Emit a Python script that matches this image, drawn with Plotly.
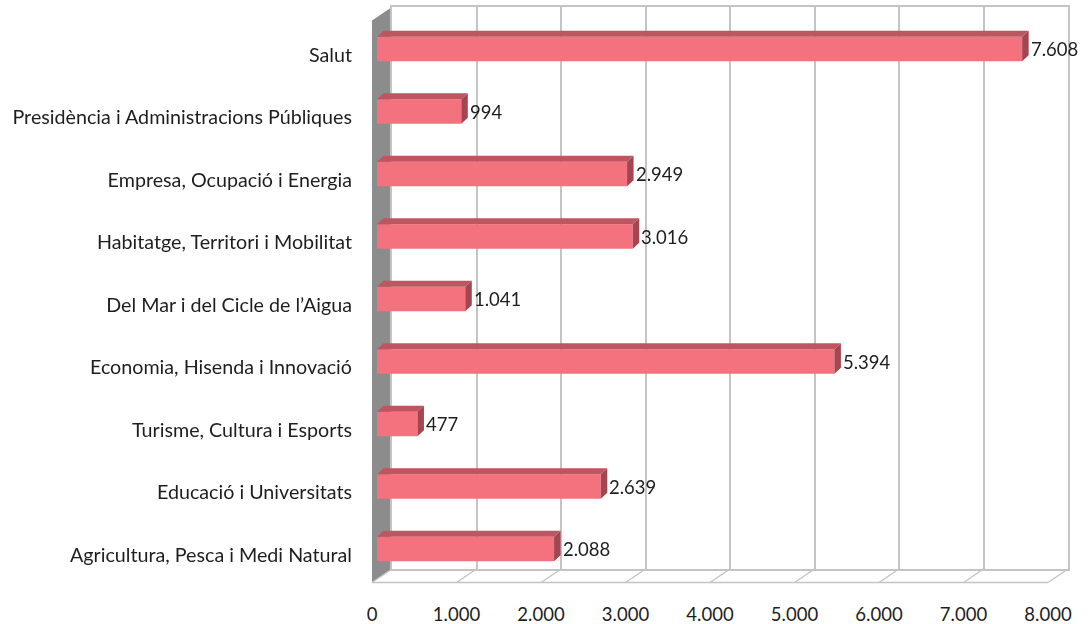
import plotly.graph_objects as go

# ---- data ----
categories = [
    "Agricultura, Pesca i Medi Natural",
    "Educació i Universitats",
    "Turisme, Cultura i Esports",
    "Economia, Hisenda i Innovació",
    "Del Mar i del Cicle de l’Aigua",
    "Habitatge, Territori i Mobilitat",
    "Empresa, Ocupació i Energia",
    "Presidència i Administracions Públiques",
    "Salut",
]
values = [2088, 2639, 477, 5394, 1041, 3016, 2949, 994, 7608]
tick_values = [0, 1000, 2000, 3000, 4000, 5000, 6000, 7000, 8000]
tick_labels = ["0", "1.000", "2.000", "3.000", "4.000", "5.000", "6.000", "7.000", "8.000"]

# ---- geometry / style ----
W, H = 1089, 624
FONT = "Lato"
TXT = "#1e1e1e"
FRONT = "#F4717E"
TOP = "#BE5560"
SIDE = "#A24751"
GRID = "#C4C4C4"
WALL = "#8C8C8C"

# back wall (pixels)
wall_l, wall_r, wall_t, wall_b = 392, 1068, 7, 569
depth_dx, depth_dy = 20, 13.5  # wall-to-front offset in px
k_w = (wall_r - wall_l) / 8000.0

# bar subplot mapping (px)
bar_x0 = 377
k_b = 0.0848
cat_y0 = 549.0     # pixel centre of first category bar
cat_step = 62.5
bar_w = 24.5 / cat_step
bdx = 6.5 / k_b          # 3d depth in value units
bdy = 6.0 / cat_step     # 3d depth in category units

fig = go.Figure()

# front faces (real bars)
idx = list(range(len(categories)))
fig.add_trace(go.Bar(
    x=values, y=idx, orientation="h", width=bar_w,
    marker=dict(color=FRONT, line=dict(width=0)),
    xaxis="x2", yaxis="y2", hoverinfo="skip", showlegend=False,
))

# top and side faces from the same values
tx, ty, sx, sy = [], [], [], []
for i, v in zip(idx, values):
    yt = i + bar_w / 2
    yb = i - bar_w / 2
    tx += [0, v, v + bdx, bdx, 0, None]
    ty += [yt, yt, yt + bdy, yt + bdy, yt, None]
    sx += [v, v + bdx, v + bdx, v, v, None]
    sy += [yb, yb + bdy, yt + bdy, yt, yb, None]
fig.add_trace(go.Scatter(x=tx, y=ty, mode="lines", fill="toself", fillcolor=TOP,
                         line=dict(width=0, color=TOP), xaxis="x2", yaxis="y2",
                         hoverinfo="skip", showlegend=False))
fig.add_trace(go.Scatter(x=sx, y=sy, mode="lines", fill="toself", fillcolor=SIDE,
                         line=dict(width=0, color=SIDE), xaxis="x2", yaxis="y2",
                         hoverinfo="skip", showlegend=False))

# value labels
for i, v in zip(idx, values):
    fig.add_annotation(x=v + bdx, y=i, xref="x2", yref="y2", showarrow=False,
                       text=f"{v:,}".replace(",", "."), xanchor="left", yanchor="middle",
                       xshift=0, font=dict(family=FONT, size=18.5, color=TXT))

# dummy trace so the wall subplot exists
fig.add_trace(go.Scatter(x=[0, 8000], y=[0, 1], mode="markers", opacity=0,
                         xaxis="x", yaxis="y", hoverinfo="skip", showlegend=False))

# side wall (grey) and floor lines (paper coordinates, derived from wall axis scale)
px = lambda p: p / W
pb = lambda p: (H - p) / H
wall_px = lambda v: wall_l + v * k_w
fig.add_shape(type="path", xref="paper", yref="paper", layer="below",
              path=f"M {px(wall_l - depth_dx)} {pb(wall_t + depth_dy)} L {px(wall_l)} {pb(wall_t)} "
                   f"L {px(wall_l)} {pb(wall_b)} L {px(wall_l - depth_dx)} {pb(wall_b + depth_dy)} Z",
              fillcolor=WALL, line=dict(width=0))
for tv in tick_values:
    fig.add_shape(type="line", xref="paper", yref="paper", layer="below",
                  x0=px(wall_px(tv)), x1=px(wall_px(tv) - depth_dx),
                  y0=pb(wall_b), y1=pb(wall_b + depth_dy),
                  line=dict(color=GRID, width=1.5))
fig.add_shape(type="line", xref="paper", yref="paper", layer="below",
              x0=px(wall_px(0) - depth_dx), x1=px(wall_px(8000) - depth_dx),
              y0=pb(wall_b + depth_dy), y1=pb(wall_b + depth_dy),
              line=dict(color=GRID, width=1.5))

fig.update_layout(
    width=W, height=H,
    margin=dict(l=0, r=0, t=0, b=0),
    paper_bgcolor="white", plot_bgcolor="rgba(0,0,0,0)",
    separators=",.",
    showlegend=False,
    xaxis=dict(domain=[wall_l / W, wall_r / W], range=[0, 8000], anchor="y",
               tickvals=tick_values, ticktext=tick_labels, showgrid=True,
               gridcolor=GRID, gridwidth=1.5, showline=True, linecolor=GRID, linewidth=1.5,
               mirror=True, zeroline=False, ticks="", ticklabelshift=-depth_dx,
               ticklabelstandoff=28, tickfont=dict(family=FONT, size=18.5, color=TXT),
               fixedrange=True, automargin=False),
    yaxis=dict(domain=[pb(wall_b), pb(wall_t)], range=[0, 1], anchor="x",
               showgrid=False, showline=True, linecolor=GRID, linewidth=1.5, mirror=True,
               zeroline=False, showticklabels=False, ticks="", fixedrange=True,
               automargin=False),
    xaxis2=dict(domain=[0, 1], range=[-bar_x0 / k_b, (W - bar_x0) / k_b], anchor="y2",
                visible=False, fixedrange=True),
    yaxis2=dict(domain=[0, 1],
                range=[(cat_y0 - H) / cat_step, cat_y0 / cat_step],
                anchor="free", position=352 / W,
                tickvals=idx, ticktext=categories, showgrid=False, zeroline=False,
                showline=False, ticks="", ticklabelshift=6,
                tickfont=dict(family=FONT, size=19.7, color=TXT),
                fixedrange=True, automargin=False),
)

fig.write_html("out.html", config={"displayModeBar": False},
               post_script="document.body.style.margin='0';")
